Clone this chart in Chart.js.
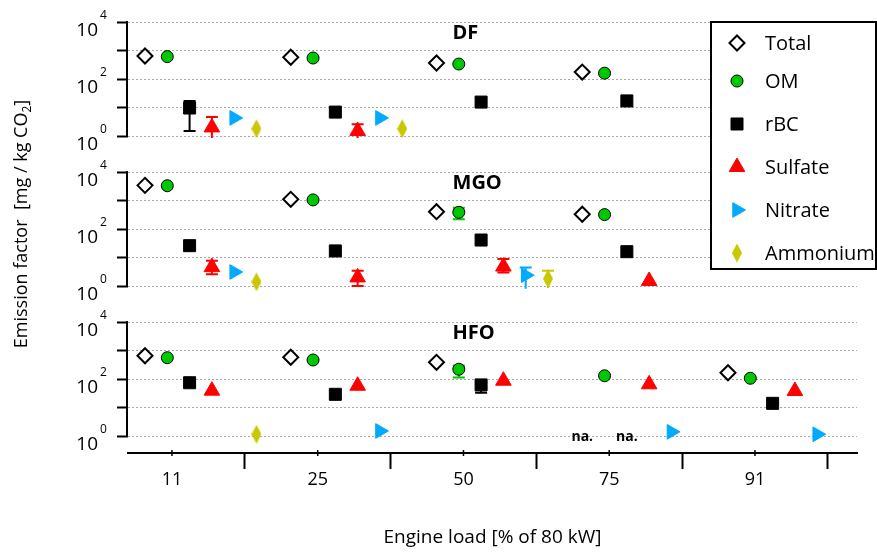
<!DOCTYPE html>
<html>
<head>
<meta charset="utf-8">
<script src="https://cdn.jsdelivr.net/npm/chart.js@4.4.0/dist/chart.umd.min.js"></script>
<style>
  html, body { margin: 0; padding: 0; background: #fff; }
</style>
</head>
<body>
<canvas id="chart" width="877" height="554"></canvas>
<script>
const loads = ["11", "25", "50", "75", "91"];
const species = ["Total", "OM", "rBC", "Sulfate", "Nitrate", "Ammonium"];
const fuels = ["DF", "MGO", "HFO"];
const yTicks = [1, 10, 100, 1000, 10000];
const yLabelPowers = [0, 2, 4];

// emission factors in mg / kg CO2, one value per engine load (null = no data)
const dfTotal    = [640, 580, 365, 175, null];
const dfOM       = [610, 545, 335, 160, null];
const dfRBC      = [9.6, 6.9, 15.5, 17, null];
const dfSulfate  = [2.0, 1.5, null, null, null];
const dfNitrate  = [4.3, 4.3, null, null, null];
const dfAmmonium = [1.8, 1.8, null, null, null];

const mgoTotal    = [3400, 1100, 405, 330, null];
const mgoOM       = [3300, 1050, 385, 320, null];
const mgoRBC      = [26, 17, 41, 16, null];
const mgoSulfate  = [4.6, 2.0, 4.8, 1.5, null];
const mgoNitrate  = [3.1, null, 2.4, null, null];
const mgoAmmonium = [1.4, null, 1.8, null, null];

const hfoTotal    = [655, 580, 385, null, 166];
const hfoOM       = [560, 465, 220, 130, 106];
const hfoRBC      = [74, 29, 62, null, 14];
const hfoSulfate  = [39, 58, 87, 65, 38];
const hfoNitrate  = [null, 1.5, null, 1.4, 1.15];
const hfoAmmonium = [1.15, null, null, null, null];

// error bars [low, high]
const dfRbcErr       = [[1.5, 17], null, null, null, null];
const dfSulfateErr   = [[0.85, 4.6], [0.85, 2.6], null, null, null];
const mgoOmErr       = [null, null, [220, 560], null, null];
const mgoSulfateErr  = [[2.6, 7.7], [1.0, 3.4], [3.0, 8.9], null, null];
const mgoNitrateErr  = [null, null, [0.8, 4.5], null, null];
const mgoAmmoniumErr = [null, null, [0.85, 3.4], null, null];
const hfoOmErr       = [null, null, [113, 300], null, null];
const hfoRbcErr      = [[62, 90], null, [33, 80], null, null];

// [load index, species index] marked "na." in the HFO panel
const naMarks = [[3, 0], [3, 2]];

const table = {
  DF:  [dfTotal, dfOM, dfRBC, dfSulfate, dfNitrate, dfAmmonium],
  MGO: [mgoTotal, mgoOM, mgoRBC, mgoSulfate, mgoNitrate, mgoAmmonium],
  HFO: [hfoTotal, hfoOM, hfoRBC, hfoSulfate, hfoNitrate, hfoAmmonium]
};
const errTable = {
  DF:  [null, null, dfRbcErr, dfSulfateErr, null, null],
  MGO: [null, mgoOmErr, null, mgoSulfateErr, mgoNitrateErr, mgoAmmoniumErr],
  HFO: [null, hfoOmErr, hfoRbcErr, null, null, null]
};

const FONT = '"Open Sans", "DejaVu Sans", sans-serif';
const STEP = 0.153;      // offset between species inside a load group
const LABEL_AT = 0.185;  // where the load label sits in a group
const EDGE_AT = 0.685;   // group separator tick
const PX_PER_DECADE = 28.5;

const yellow = '#c8c800';
function tallDiamond(w, h, color) {
  const c = document.createElement('canvas');
  c.width = w; c.height = h;
  const g = c.getContext('2d');
  g.fillStyle = color;
  g.beginPath();
  g.moveTo(w / 2, 0); g.lineTo(w, h / 2); g.lineTo(w / 2, h); g.lineTo(0, h / 2);
  g.closePath();
  g.fill();
  return c;
}

const markers = [
  { pointStyle: 'rectRot', radius: 7.5, rotation: 0, bg: '#fff', border: '#000', bw: 2 },
  { pointStyle: 'circle', radius: 6, rotation: 0, bg: '#00c800', border: '#000', bw: 1 },
  { pointStyle: 'rect', radius: 8.5, rotation: 0, bg: '#000', border: '#000', bw: 1 },
  { pointStyle: 'triangle', radius: 9, rotation: 0, bg: '#ff0000', border: '#ff0000', bw: 1 },
  { pointStyle: 'triangle', radius: 8.5, rotation: 90, bg: '#00aaff', border: '#00aaff', bw: 1 },
  { pointStyle: tallDiamond(10, 19, yellow), radius: 9, rotation: 0, bg: yellow, border: yellow, bw: 0 }
];
const errColors = ['#000', '#00c800', '#000', '#ff0000', '#00aaff', yellow];

const datasets = [];
fuels.forEach(fuel => {
  table[fuel].forEach((values, s) => {
    const m = markers[s];
    datasets.push({
      label: fuel + ' ' + species[s],
      yAxisID: 'y' + fuel,
      data: values.map((v, i) => v === null ? null : { x: i + s * STEP, y: v }).filter(p => p),
      pointStyle: m.pointStyle,
      pointRadius: m.radius,
      pointRotation: m.rotation,
      pointBackgroundColor: m.bg,
      pointBorderColor: m.border,
      pointBorderWidth: m.bw,
      showLine: false
    });
  });
});

function isLabelTick(v) {
  const i = Math.round(v - LABEL_AT);
  return Math.abs(v - (i + LABEL_AT)) < 1e-6;
}

function panelAxis(heightPx, weight) {
  return {
    type: 'logarithmic',
    position: 'left',
    stack: 'fuel',
    stackWeight: heightPx,
    weight: weight,
    min: Math.pow(10, 4 - heightPx / PX_PER_DECADE),
    max: 1e4,
    bounds: 'data',
    afterBuildTicks: s => { s.ticks = yTicks.map(v => ({ value: v })); },
    afterFit: s => { s.width = 128; },
    ticks: { display: false },
    grid: { color: '#a8a8a8', lineWidth: 1, drawTicks: true, tickLength: 11, tickWidth: 2, tickColor: '#000', tickBorderDash: [] },
    border: { display: false, dash: [2, 2] }
  };
}

const extras = {
  id: 'extras',
  beforeDatasetsDraw(chart) {
    const ctx = chart.ctx, xs = chart.scales.x;
    ctx.save();
    ctx.lineWidth = 2;
    fuels.forEach(fuel => {
      const ys = chart.scales['y' + fuel];
      errTable[fuel].forEach((errs, s) => {
        if (!errs) return;
        errs.forEach((e, i) => {
          if (!e) return;
          const px = xs.getPixelForValue(i + s * STEP);
          const lo = ys.getPixelForValue(e[0]), hi = ys.getPixelForValue(e[1]);
          ctx.strokeStyle = errColors[s];
          ctx.beginPath();
          ctx.moveTo(px, lo); ctx.lineTo(px, hi);
          ctx.moveTo(px - 6, hi); ctx.lineTo(px + 6, hi);
          if (e[0] >= 1) { ctx.moveTo(px - 6, lo); ctx.lineTo(px + 6, lo); }
          ctx.stroke();
        });
      });
    });
    ctx.restore();
  },
  afterDraw(chart) {
    const ctx = chart.ctx, xs = chart.scales.x, area = chart.chartArea;
    ctx.save();
    ctx.fillStyle = '#000';
    ctx.strokeStyle = '#000';

    fuels.forEach(fuel => {
      const ys = chart.scales['y' + fuel];
      const top = ys.getPixelForValue(1e4), bottom = ys.getPixelForValue(1);
      ctx.lineWidth = 2;
      ctx.beginPath();
      ctx.moveTo(area.left - 1, top - 1);
      ctx.lineTo(area.left - 1, bottom + 1);
      ctx.stroke();
      yLabelPowers.forEach(p => {
        const py = ys.getPixelForValue(Math.pow(10, p));
        ctx.textBaseline = 'middle';
        ctx.font = '19px ' + FONT;
        ctx.textAlign = 'right';
        ctx.fillText('10', 98, py + 9);
        ctx.font = '12px ' + FONT;
        ctx.textAlign = 'left';
        ctx.fillText(String(p), 100, py - 6);
      });
      ctx.font = 'bold 20px ' + FONT;
      ctx.textAlign = 'left';
      ctx.fillText(fuel, xs.getPixelForValue(2.11), top + 11);
    });

    const hfo = chart.scales.yHFO;
    ctx.font = 'bold 14px ' + FONT;
    ctx.textAlign = 'center';
    naMarks.forEach(([i, s]) => {
      ctx.fillText('na.', xs.getPixelForValue(i + s * STEP), hfo.getPixelForValue(1) + 1);
    });

    // small ticks under the load labels
    ctx.lineWidth = 1.5;
    loads.forEach((l, i) => {
      const px = xs.getPixelForValue(i + LABEL_AT);
      ctx.beginPath();
      ctx.moveTo(px, area.bottom - 3);
      ctx.lineTo(px, area.bottom + 3);
      ctx.stroke();
    });

    // legend
    ctx.fillStyle = '#fff';
    ctx.fillRect(711, 22, 165, 247);
    ctx.lineWidth = 2;
    ctx.strokeStyle = '#000';
    ctx.strokeRect(711, 22, 165, 247);
    const rows = [43, 81, 124, 167, 210, 253];
    species.forEach((name, s) => {
      const m = markers[s];
      ctx.fillStyle = m.bg;
      ctx.strokeStyle = m.border;
      ctx.lineWidth = m.bw;
      Chart.helpers.drawPoint(ctx, { pointStyle: m.pointStyle, radius: m.radius, rotation: m.rotation, borderWidth: m.bw }, 737, rows[s]);
      ctx.fillStyle = '#000';
      ctx.font = '20px ' + FONT;
      ctx.textAlign = 'left';
      ctx.textBaseline = 'middle';
      ctx.fillText(name, 765, rows[s] + 1);
    });

    // y title with subscript
    ctx.translate(22, 224);
    ctx.rotate(-Math.PI / 2);
    const main = 'Emission factor  [mg / kg CO', sub = '2', end = ']';
    ctx.font = '18px ' + FONT;
    const w1 = ctx.measureText(main).width, w3 = ctx.measureText(end).width;
    ctx.font = '12px ' + FONT;
    const w2 = ctx.measureText(sub).width;
    let x0 = -(w1 + w2 + w3) / 2;
    ctx.fillStyle = '#000';
    ctx.textAlign = 'left';
    ctx.textBaseline = 'middle';
    ctx.font = '18px ' + FONT;
    ctx.fillText(main, x0, 0);
    ctx.font = '12px ' + FONT;
    ctx.fillText(sub, x0 + w1, 6);
    ctx.font = '18px ' + FONT;
    ctx.fillText(end, x0 + w1 + w2, 0);
    ctx.restore();
  }
};

Chart.defaults.font.family = FONT;
const ctx = document.getElementById("chart").getContext("2d");
const chart = new Chart(ctx, {
  type: 'scatter',
  data: { datasets: datasets },
  options: {
    responsive: false,
    animation: false,
    events: [],
    layout: { padding: { top: 22, right: 20, left: 0, bottom: 0 } },
    plugins: { legend: { display: false }, tooltip: { enabled: false } },
    scales: {
      x: {
        type: 'linear',
        position: 'bottom',
        min: -0.1166,
        max: 4.885,
        bounds: 'data',
        afterBuildTicks: s => {
          s.ticks = [];
          loads.forEach((l, i) => {
            s.ticks.push({ value: i + LABEL_AT });
            s.ticks.push({ value: i + EDGE_AT });
          });
        },
        afterFit: s => { s.height = 101; },
        ticks: {
          autoSkip: false,
          maxRotation: 0,
          padding: 0,
          color: '#000',
          font: { size: 18 },
          callback: v => isLabelTick(v) ? loads[Math.round(v - LABEL_AT)] : ''
        },
        grid: {
          drawOnChartArea: false,
          drawTicks: true,
          tickLength: 16,
          tickWidth: 2,
          tickColor: c => (c.tick && isLabelTick(c.tick.value)) ? 'rgba(0,0,0,0)' : '#000'
        },
        border: { display: true, color: '#000', width: 2 },
        title: {
          display: true,
          text: 'Engine load [% of 80 kW]',
          color: '#000',
          font: { size: 19 },
          padding: { top: 0, bottom: 5 }
        }
      },
      yDF: panelAxis(150, 3),
      yMGO: panelAxis(150, 2),
      yHFO: panelAxis(131, 1)
    }
  },
  plugins: [extras]
});
</script>
</body>
</html>
